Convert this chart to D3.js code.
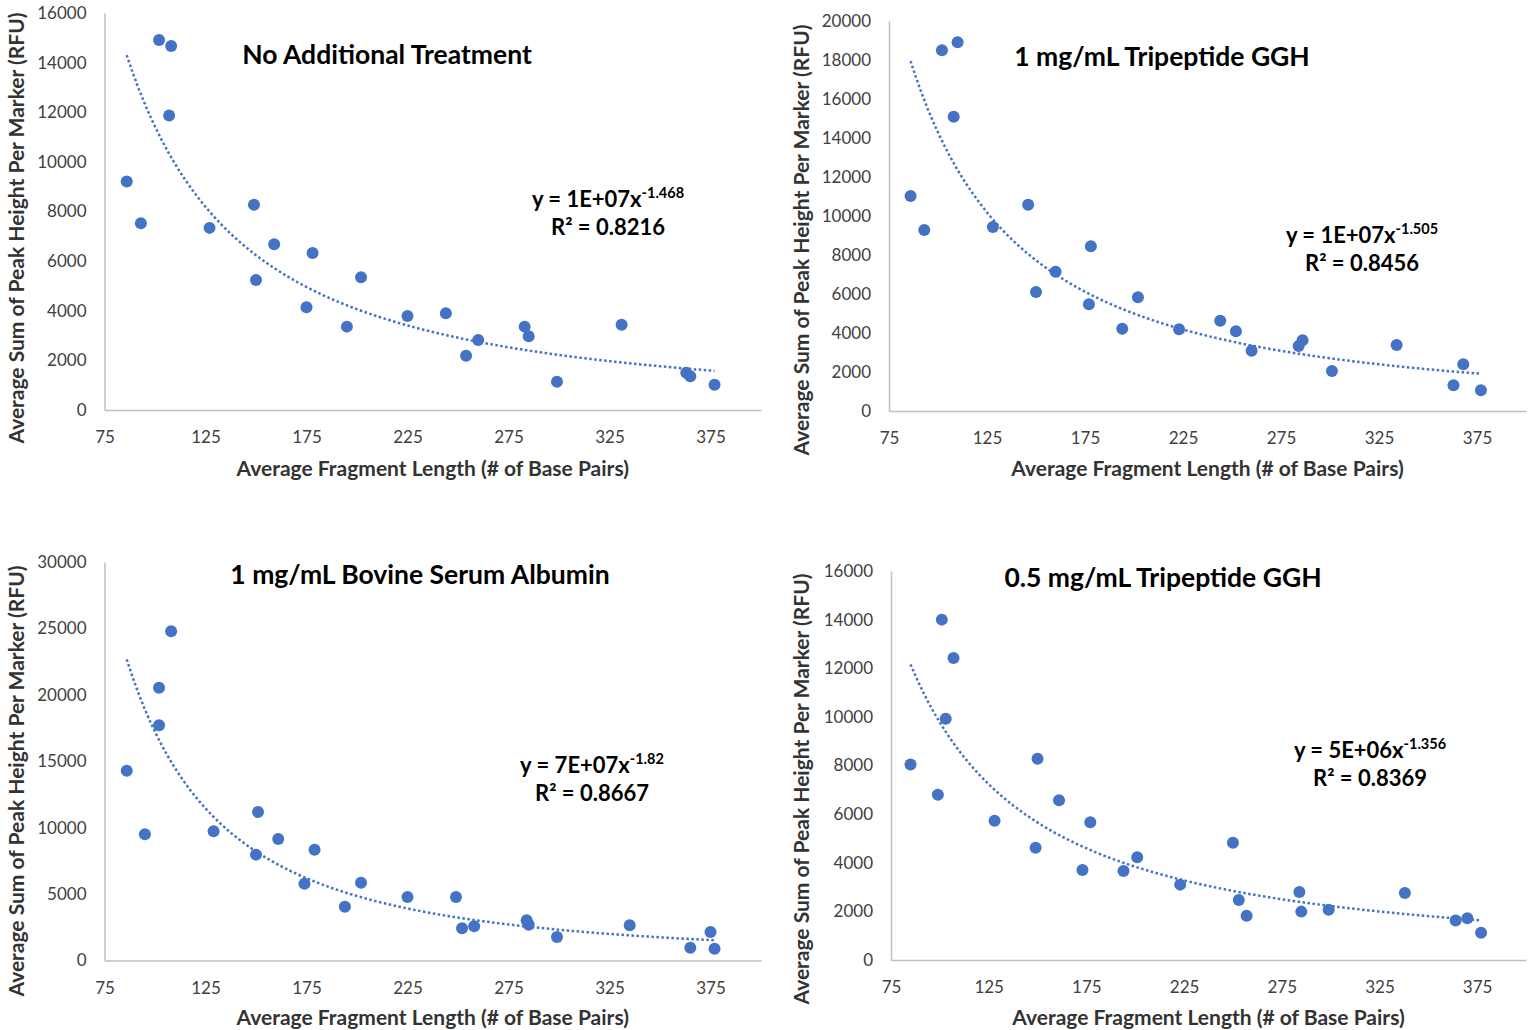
<!DOCTYPE html>
<html>
<head>
<meta charset="utf-8">
<script src="https://cdn.jsdelivr.net/npm/d3@7"></script>
<style>
  body { margin: 0; background: #fff; }
  svg { font-family: Lato, "Open Sans", sans-serif; }
</style>
</head>
<body>
<div id="chart"></div>
<script>
// values
var xTicks = [75, 125, 175, 225, 275, 325, 375];

var titles = ["No Additional Treatment", "1 mg/mL Tripeptide GGH",
              "1 mg/mL Bovine Serum Albumin", "0.5 mg/mL Tripeptide GGH"];
var eqCoef = ["1E+07", "1E+07", "7E+07", "5E+06"];
var eqExp  = ["-1.468", "-1.505", "-1.82", "-1.356"];
var eqR2   = ["0.8216", "0.8456", "0.8667", "0.8369"];
var yMax   = [16000, 20000, 30000, 16000];
var yStep  = [2000, 2000, 5000, 2000];

var len1 = [86, 93, 102, 108, 107, 127, 149, 150, 159, 178, 202, 175, 195, 225, 244, 260, 254, 283, 285, 299, 331, 363, 365, 377];
var rfu1 = [9210, 7530, 14910, 14670, 11870, 7340, 8270, 5240, 6680, 6330, 5350, 4140, 3360, 3790, 3900, 2820, 2190, 3360, 2970, 1140, 3440, 1500, 1360, 1020];

var len2 = [86, 93, 102, 110, 108, 128, 146, 150, 160, 178, 177, 194, 202, 223, 244, 252, 260, 286, 284, 301, 334, 368, 363, 377];
var rfu2 = [11030, 9280, 18500, 18910, 15090, 9440, 10580, 6100, 7140, 8450, 5470, 4220, 5830, 4190, 4630, 4090, 3090, 3630, 3330, 2050, 3390, 2400, 1320, 1060];

var len3 = [86, 95, 108, 102, 102, 129, 151, 150, 161, 179, 174, 194, 202, 225, 249, 252, 258, 284, 285, 299, 335, 375, 365, 377];
var rfu3 = [14290, 9500, 24790, 20540, 17710, 9730, 11180, 7970, 9150, 8340, 5780, 4050, 5860, 4780, 4780, 2430, 2580, 3030, 2700, 1770, 2650, 2150, 960, 890];

var len4 = [85, 99, 101, 107, 103, 128, 150, 149, 161, 177, 173, 194, 201, 223, 250, 253, 257, 284, 285, 299, 338, 364, 370, 377];
var rfu4 = [8040, 6800, 14000, 12420, 9920, 5730, 8280, 4620, 6570, 5670, 3700, 3660, 4230, 3100, 4820, 2470, 1820, 2800, 1990, 2070, 2760, 1620, 1720, 1120];

var lens = [len1, len2, len3, len4];
var rfus = [rfu1, rfu2, rfu3, rfu4];

// where each panel sits on the page
var boxes = [
  {x0: 104.5, x1: 761,  y0: 410,   y1: 13,  tx: 387,  ty: 64,  ex: 608,  ey: 207, yt: 228, yx: 24,  xt: 476},
  {x0: 889,   x1: 1526, y0: 411,   y1: 21,  tx: 1162, ty: 66,  ex: 1362, ey: 243, yt: 240, yx: 809, xt: 476},
  {x0: 104.5, x1: 761,  y0: 960.5, y1: 562, tx: 420,  ty: 584, ex: 592,  ey: 773, yt: 781, yx: 24,  xt: 1025},
  {x0: 891,   x1: 1526, y0: 960,   y1: 571, tx: 1163, ty: 587, ex: 1370, ey: 758, yt: 789, yx: 809, xt: 1025}
];

var blue = "#4472C4";
var axisGrey = "#BFBFBF";

var svg = d3.select("#chart")
  .append("svg")
    .attr("width", 1530)
    .attr("height", 1030);

// power fit y = a*x^b, least squares on logs (same as Excel's power trendline)
function powerFit(xs, ys) {
  var lx = xs.map(Math.log), ly = ys.map(Math.log);
  var mx = d3.mean(lx), my = d3.mean(ly);
  var sxy = d3.sum(lx, function(v, i) { return (v - mx) * (ly[i] - my); });
  var sxx = d3.sum(lx, function(v) { return (v - mx) * (v - mx); });
  var b = sxy / sxx;
  return {a: Math.exp(my - b * mx), b: b};
}

boxes.forEach(function(b, k) {
  var g = svg.append("g");
  var data = lens[k].map(function(v, i) { return {len: v, rfu: rfus[k][i]}; });

  var x = d3.scaleLinear().domain([75, 400]).range([b.x0, b.x1]);
  var y = d3.scaleLinear().domain([0, yMax[k]]).range([b.y0, b.y1]);

  // X axis
  var xa = g.append("g")
    .attr("transform", "translate(0," + b.y0 + ")")
    .call(d3.axisBottom(x).tickValues(xTicks).tickSize(0).tickPadding(21));
  // Y axis
  var ya = g.append("g")
    .attr("transform", "translate(" + b.x0 + ",0)")
    .call(d3.axisLeft(y).tickValues(d3.range(0, yMax[k] + 1, yStep[k])).tickSize(0).tickPadding(18)
      .tickFormat(d3.format("d")));

  [xa, ya].forEach(function(a) {
    a.select(".domain").attr("stroke", axisGrey).attr("stroke-width", 1.5);
    a.selectAll("text")
      .attr("font-family", "Lato, sans-serif")
      .attr("font-size", 17)
      .attr("fill", "#404040");
  });

  // axis titles
  g.append("text")
    .attr("text-anchor", "middle")
    .attr("x", (b.x0 + b.x1) / 2)
    .attr("y", b.xt)
    .attr("font-size", 21)
    .attr("font-weight", "bold")
    .attr("fill", "#333")
    .text("Average Fragment Length (# of Base Pairs)");

  g.append("text")
    .attr("text-anchor", "middle")
    .attr("transform", "translate(" + b.yx + "," + b.yt + ") rotate(-90)")
    .attr("font-size", 21)
    .attr("font-weight", "bold")
    .attr("fill", "#333")
    .text("Average Sum of Peak Height Per Marker (RFU)");

  // trendline
  var fit = powerFit(lens[k], rfus[k]);
  var xr = d3.extent(lens[k]);
  var curve = d3.range(0, 101).map(function(i) {
    var xv = xr[0] + (xr[1] - xr[0]) * i / 100;
    return [xv, fit.a * Math.pow(xv, fit.b)];
  });
  g.append("path")
    .datum(curve)
    .attr("fill", "none")
    .attr("stroke", blue)
    .attr("stroke-width", 2.5)
    .attr("stroke-dasharray", "2.5,2.5")
    .attr("d", d3.line()
      .x(function(d) { return x(d[0]); })
      .y(function(d) { return y(d[1]); }));

  // points
  g.selectAll("circle")
    .data(data)
    .enter().append("circle")
      .attr("cx", function(d) { return x(d.len); })
      .attr("cy", function(d) { return y(d.rfu); })
      .attr("r", 6)
      .attr("fill", blue);

  // chart title
  g.append("text")
    .attr("text-anchor", "middle")
    .attr("x", b.tx)
    .attr("y", b.ty)
    .attr("font-size", 26.5)
    .attr("font-weight", "bold")
    .attr("fill", "#000")
    .text(titles[k]);

  // equation + R²
  var eq = g.append("text")
    .attr("text-anchor", "middle")
    .attr("x", b.ex)
    .attr("y", b.ey)
    .attr("font-size", 22)
    .attr("font-weight", "bold")
    .attr("fill", "#000");
  eq.append("tspan").text("y = " + eqCoef[k] + "x");
  eq.append("tspan").attr("font-size", 14.5).attr("dy", -9).text(eqExp[k]);

  g.append("text")
    .attr("text-anchor", "middle")
    .attr("x", b.ex)
    .attr("y", b.ey + 28)
    .attr("font-size", 22)
    .attr("font-weight", "bold")
    .attr("fill", "#000")
    .text("R² = " + eqR2[k]);
});
</script>
</body>
</html>
